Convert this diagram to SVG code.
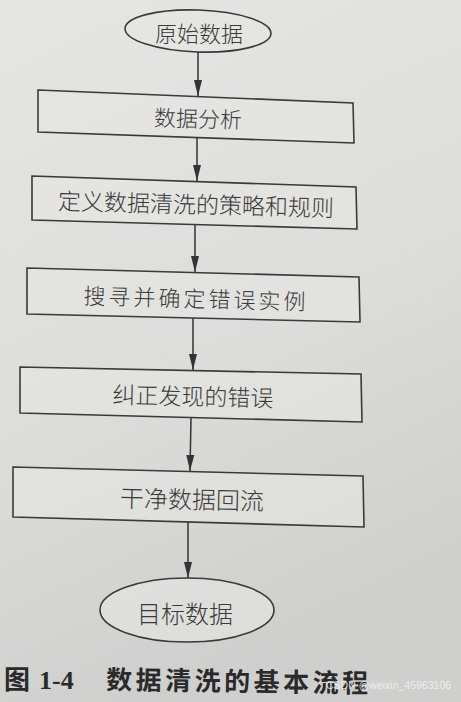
<svg xmlns="http://www.w3.org/2000/svg" width="461" height="702" viewBox="0 0 461 702">
  <defs>
    <linearGradient id="bg" x1="0" y1="0" x2="0.3" y2="1">
      <stop offset="0" stop-color="#e6e6e4"/>
      <stop offset="0.6" stop-color="#dcdcda"/>
      <stop offset="1" stop-color="#cfcfcd"/>
    </linearGradient>
    <marker id="arr" viewBox="0 0 16 10" refX="16" refY="5" markerWidth="16" markerHeight="10" orient="auto" markerUnits="userSpaceOnUse">
      <path d="M0,1 L16,5 L0,9 z" fill="#333"/>
    </marker>
  </defs>
  <style>
    .box { fill: #e6e6e3; fill-opacity: 0.6; stroke: #3a3a3a; stroke-width: 1.6; }
    .lbl { font-family: "Noto Sans CJK SC", "Noto Sans", sans-serif; font-size: 22px; fill: #3a3a3a; text-anchor: middle; dominant-baseline: central; font-weight: 300; }
    .edge { stroke: #333; stroke-width: 1.5; fill: none; marker-end: url(#arr); }
    .cap { font-family: "Noto Sans CJK SC", sans-serif; font-weight: 700; font-size: 26px; fill: #2a2a2a; }
    .capn { font-family: "Liberation Serif", serif; font-weight: 700; font-size: 26px; fill: #2a2a2a; }
    .wm { font-family: "Liberation Sans", sans-serif; font-size: 10.5px; fill: #f4f4f4; fill-opacity: 0.85; }
  </style>
  <rect x="0" y="0" width="461" height="702" fill="url(#bg)"/>

  <g id="n1">
    <ellipse cx="198" cy="31" rx="73" ry="21" transform="rotate(2 198 31)" class="box"/>
    <text x="199" y="32" class="lbl">原始数据</text>
  </g>
  <g id="n2">
    <polygon points="38,90 353,103 354,143 38,132" class="box"/>
    <text x="198" y="117" class="lbl" transform="rotate(1.5 198 117)">数据分析</text>
  </g>
  <g id="n3">
    <polygon points="32,176 356,187 357,229 32,220" class="box"/>
    <text x="196" y="203" class="lbl" style="font-size:23px" transform="rotate(1.5 196 203)">定义数据清洗的策略和规则</text>
  </g>
  <g id="n4">
    <polygon points="27,268 359,277 360,322 27,314" class="box"/>
    <text x="196" y="297" class="lbl" style="letter-spacing:3px" transform="rotate(1.5 196 297)">搜寻并确定错误实例</text>
  </g>
  <g id="n5">
    <polygon points="20,367 361,374 362,422 20,413" class="box"/>
    <text x="193" y="395" class="lbl" style="font-size:23px" transform="rotate(1.2 193 395)">纠正发现的错误</text>
  </g>
  <g id="n6">
    <polygon points="13,467 363,476 364,527 13,517" class="box"/>
    <text x="192" y="498" class="lbl" style="font-size:24px" transform="rotate(1.2 192 498)">干净数据回流</text>
  </g>
  <g id="n7">
    <ellipse cx="187" cy="610" rx="87" ry="32" class="box"/>
    <text x="185" y="612" class="lbl" style="font-size:24px">目标数据</text>
  </g>

  <g id="edges">
    <line x1="198" y1="52" x2="198" y2="96" class="edge"/>
    <line x1="197" y1="138" x2="197" y2="181" class="edge"/>
    <line x1="195" y1="225" x2="195" y2="272" class="edge"/>
    <line x1="193" y1="318" x2="193" y2="370" class="edge"/>
    <line x1="191" y1="418" x2="190" y2="471" class="edge"/>
    <line x1="188" y1="522" x2="188" y2="578" class="edge"/>
  </g>

  <g id="caption">
    <text x="4" y="689" class="cap">图</text>
    <text x="39" y="689" class="capn">1-4</text>
    <text x="106" y="689" class="cap" style="letter-spacing:3.5px" transform="rotate(0.8 106 689)">数据清洗的基本流程</text>
    <text x="326" y="689" class="wm">CSDN @weixin_45963106</text>
  </g>
</svg>
